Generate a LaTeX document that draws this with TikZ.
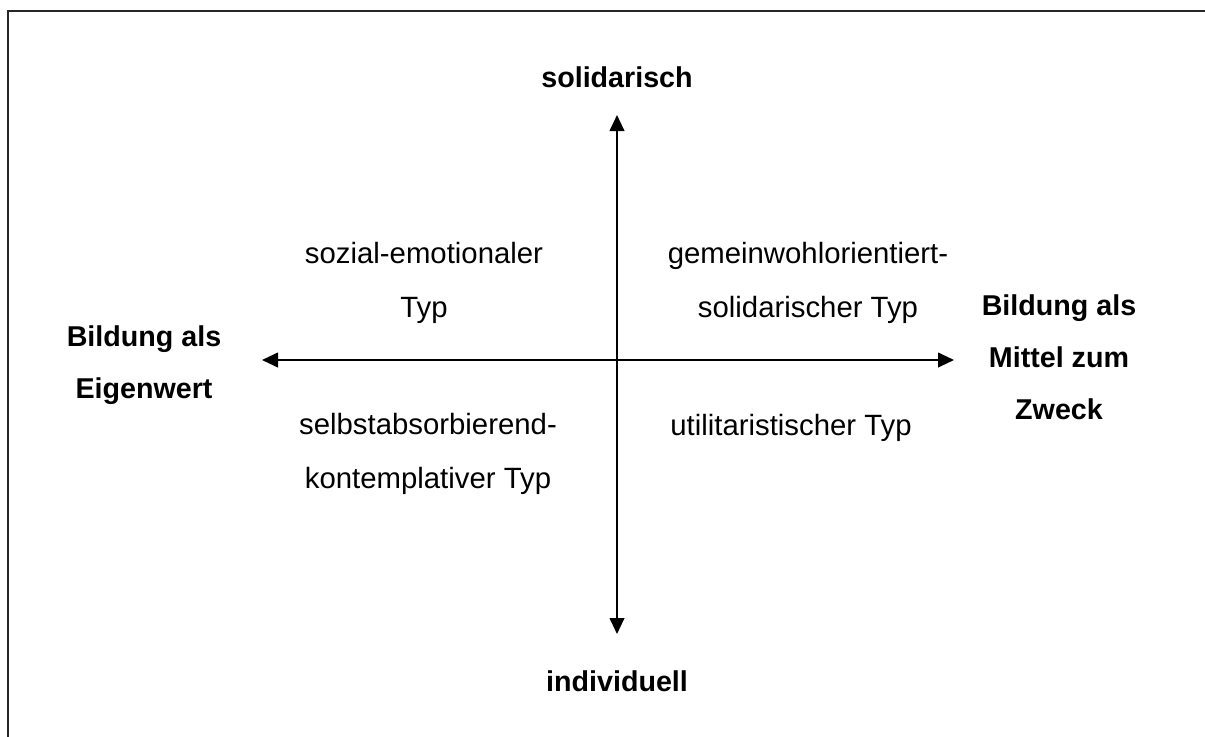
\documentclass[tikz,border=0pt]{standalone}
\usepackage{fontspec}
\setmainfont{Liberation Sans}
\usetikzlibrary{arrows.meta}
\begin{document}
\begin{tikzpicture}[x=0.75pt,y=-0.75pt,>={Triangle[length=12pt,width=11pt]},
    achse/.style={<->, line width=1.5pt},
    pol/.style={font=\fontsize{21.5}{39}\selectfont\bfseries, align=center},
    typ/.style={font=\fontsize{22}{40}\selectfont, align=center}]
            % 画布与边框
            \useasboundingbox (0,0) rectangle (1205,736);
            \fill[overlay, white] (-20,-20) rectangle (1225,756);
            \draw[overlay, line width=1.5pt, black!85] (8,756) -- (8,11) -- (1225,11);

            % 定义点
            \coordinate (Oben) at (617,115);
            \coordinate (Unten) at (617,634);
            \coordinate (Links) at (262,360);
            \coordinate (Rechts) at (954,360);

            % 绘制坐标轴
            \draw[achse] (Unten) -- (Oben);
            \draw[achse] (Links) -- (Rechts);

            % 标记两极
            \node[pol] (solidarisch) at (617,77) {solidarisch};
            \node[pol] (individuell) at (617,681) {individuell};
            \node[pol] (eigenwert) at (144,365) {Bildung als\\Eigenwert};
            \node[pol] (zweck) at (1059,357) {Bildung als\\Mittel zum\\Zweck};

            % 四种类型
            \node[typ] (sozial) at (424,283) {sozial-emotionaler\\Typ};
            \node[typ] (gemeinwohl) at (808,283) {gemeinwohlorientiert-\\solidarischer Typ};
            \node[typ] (selbst) at (428,454) {selbstabsorbierend-\\kontemplativer Typ};
            \node[typ] (utilitar) at (791,428) {utilitaristischer Typ};
        \end{tikzpicture}
\end{document}
